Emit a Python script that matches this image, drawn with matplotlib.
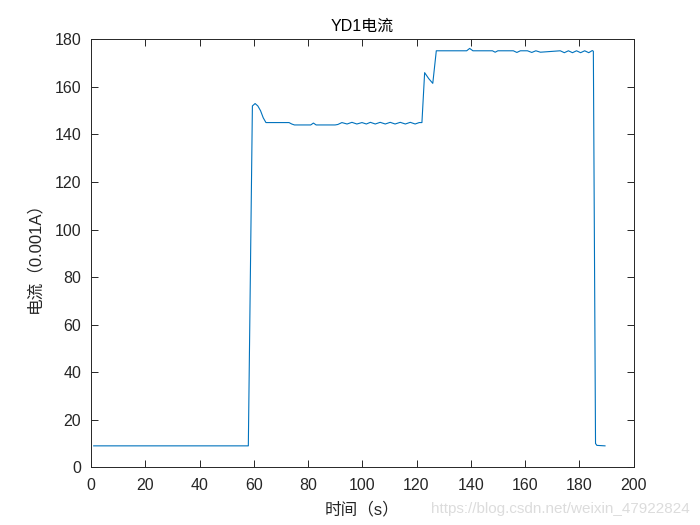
import matplotlib
matplotlib.use('Agg')
import matplotlib.pyplot as plt

plt.rcParams['font.family'] = ['Liberation Sans', 'Noto Sans CJK SC', 'DejaVu Sans']

# time (s) and current (0.001A) at the break points
t = [1, 58, 59.5, 60.5, 61.5, 62.5, 63.5, 64.5, 73, 74, 75, 81, 82, 83,
     90, 91, 92.5, 94.4, 96.2, 98, 99.9, 101.5, 103, 104.8, 106.6, 108.5,
     110.3, 112.1, 114, 115.9, 117.7, 119.5, 121, 122, 123, 124.5, 126,
     127.3, 138.5, 139.6, 140.8, 148, 149, 150, 155.7, 157, 158.3, 160.9,
     162.5, 164, 165.7, 173, 174.5, 176, 177.5, 179, 180.5, 182, 183.5,
     184.8, 185.2, 186, 186.5, 189.5]
current = [9, 9, 152, 153, 152, 150, 147, 145, 145, 144.4, 144, 144, 144.8, 144,
           144, 144.2, 145, 144.4, 145.1, 144.4, 145, 144.4, 145.1, 144.4, 145.1, 144.4,
           145.1, 144.4, 145.1, 144.4, 145.1, 144.4, 145, 145, 166, 163.5, 161.5,
           175.2, 175.2, 176.2, 175.2, 175.2, 174.6, 175.2, 175.2, 174.5, 175.2, 175.2,
           174.5, 175.2, 174.6, 175.2, 174.4, 175.2, 174.4, 175.2, 174.4, 175.2, 174.4,
           175.3, 175, 10, 9.2, 9]

xticks = list(range(0, 201, 20))
yticks = list(range(0, 181, 20))

fig = plt.figure(figsize=(7, 5.25), dpi=100)
ax = fig.add_axes([0.13, 0.11, 0.775, 0.815])
ax.plot(t, current, color='#0072BD', linewidth=0.8)

ax.set_xlim(0, 200)
ax.set_ylim(0, 180)
ax.set_xticks(xticks)
ax.set_yticks(yticks)
ax.tick_params(direction='in', top=True, right=True, labelsize=11.5,
               colors='#262626', length=5, width=0.7)
ax.tick_params(axis='x', pad=8)
ax.tick_params(axis='y', pad=7)
for s in ax.spines.values():
    s.set_color('#262626')
    s.set_linewidth(0.7)

ax.set_title('YD1电流', fontsize=11.5, color='#000000', pad=6)
ax.set_xlabel('时间（s）', fontsize=12, color='#262626', labelpad=6)
ax.set_ylabel('电流（0.001A）', fontsize=12, color='#262626', labelpad=9)

fig.text(0.985, 0.018, 'https://blog.csdn.net/weixin_47922824', ha='right', va='bottom',
         fontsize=11, color='#dcdcdc')

fig.savefig('out.png', dpi=100)
